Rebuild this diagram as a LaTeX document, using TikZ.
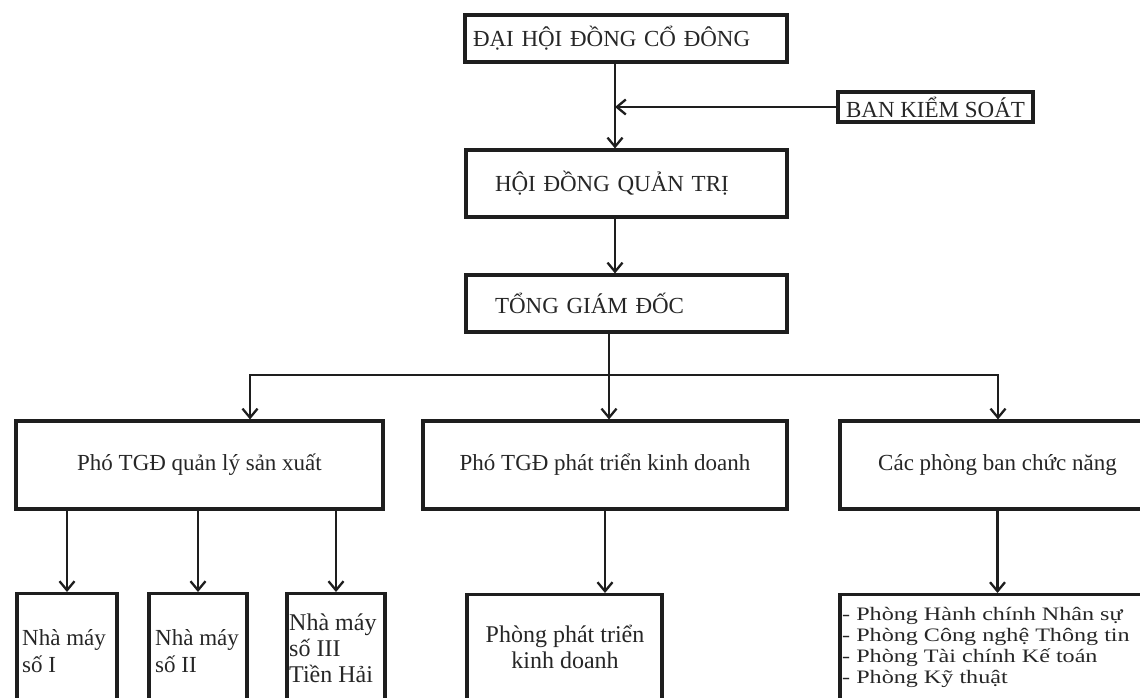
\documentclass[tikz,border=0pt]{standalone}
\usepackage{fontspec}
\setmainfont{Liberation Serif}
\usetikzlibrary{arrows.meta}
\definecolor{ink}{HTML}{1E1E1E}
\definecolor{txt}{HTML}{262626}
\begin{document}
\begin{tikzpicture}[x=1pt,y=-1pt,
  box/.style={draw=ink, line width=3.1pt, rectangle, inner sep=0pt, text=txt},
  wire/.style={draw=ink, line width=2.3pt},
  conn/.style={wire, -{Straight Barb[length=9pt,width=15pt,line width=2.3pt]}},
  capsf/.style={font=\fontsize{23}{27}\selectfont},
  lowf/.style={font=\fontsize{23}{27}\selectfont},
  lbl/.style={inner sep=0pt, text=txt, align=left}]
\useasboundingbox (0,0) rectangle (1140,698);
\clip (0,0) rectangle (1140,698);

% top chain
\node[box, capsf, minimum width=322, minimum height=47, text width=306, align=left] (dhd) at (626,38.5) {ĐẠI HỘI ĐỒNG CỔ ĐÔNG};
\node[box, capsf, minimum width=195, minimum height=30] (bks) at (935.5,107) {BAN KIỂM SOÁT};
\node[box, capsf, minimum width=321, minimum height=67, text width=263, align=left] (hdqt) at (626.5,183.5) {HỘI ĐỒNG QUẢN TRỊ};
\node[box, capsf, minimum width=321, minimum height=57, text width=263, align=left] (tgd) at (626.5,303.5) {TỔNG GIÁM ĐỐC};

% second level
\node[box, lowf, minimum width=367, minimum height=88] (qlsx) at (199.5,465) {Phó TGĐ quản lý sản xuất};
\node[box, lowf, minimum width=364, minimum height=88] (ptkd) at (605,465) {Phó TGĐ phát triển kinh doanh};
\node[box, lowf, minimum width=315, minimum height=88] (cpb) at (997.5,465) {Các phòng ban chức năng};

% third level (boxes run past the lower edge)
\node[box, anchor=north, minimum width=100, minimum height=130] (nm1) at (67,592) {};
\node[box, anchor=north, minimum width=98, minimum height=130] (nm2) at (198,592) {};
\node[box, anchor=north, minimum width=98, minimum height=130] (nm3) at (336,592) {};
\node[box, anchor=north, minimum width=195, minimum height=130] (pp) at (564.5,593) {};
\node[box, anchor=north, minimum width=315, minimum height=130] (pl) at (997.5,593) {};

\node[lbl, lowf, anchor=west] (t1) at (22,651) {Nhà máy\\số I};
\node[lbl, lowf, anchor=west] (t2) at (155,651) {Nhà máy\\số II};
\node[lbl, font=\fontsize{24}{26}\selectfont, anchor=west] (t3) at (289,648) {Nhà máy\\số III\\Tiền Hải};
\node[lbl, font=\fontsize{24}{26}\selectfont, align=center] (t4) at (565,647) {Phòng phát triển\\kinh doanh};
\node[lbl, anchor=west] (t5) at (842,648) {\scalebox{1.27}[1]{\fontsize{19}{21}\selectfont\begin{tabular}{@{}l@{}}- Phòng Hành chính Nhân sự\\- Phòng Công nghệ Thông tin\\- Phòng Tài chính Kế toán\\- Phòng Kỹ thuật\end{tabular}}};

% connectors
\coordinate (ax) at (615,0);
\coordinate (bus) at (609,375);
\coordinate (bl) at (250,375);
\coordinate (br) at (998,375);
\draw[conn] (ax |- dhd.south) -- (ax |- hdqt.north);
\draw[conn] (bks.west) -- (ax |- bks.west);
\draw[conn] (ax |- hdqt.south) -- (ax |- tgd.north);
\draw[wire] (bus |- tgd.south) -- (bus);
\draw[conn] (bus) -| (bl |- qlsx.north);
\draw[conn] (bus) -| (br |- cpb.north);
\draw[conn] (bus) -- (bus |- ptkd.north);
\draw[conn] (nm1.north |- qlsx.south) -- (nm1.north);
\draw[conn] (nm2.north |- qlsx.south) -- (nm2.north);
\draw[conn] (nm3.north |- qlsx.south) -- (nm3.north);
\draw[conn] (ptkd.south) -- (ptkd.south |- pp.north);
\draw[conn] (cpb.south) -- (cpb.south |- pl.north);
\end{tikzpicture}
\end{document}
